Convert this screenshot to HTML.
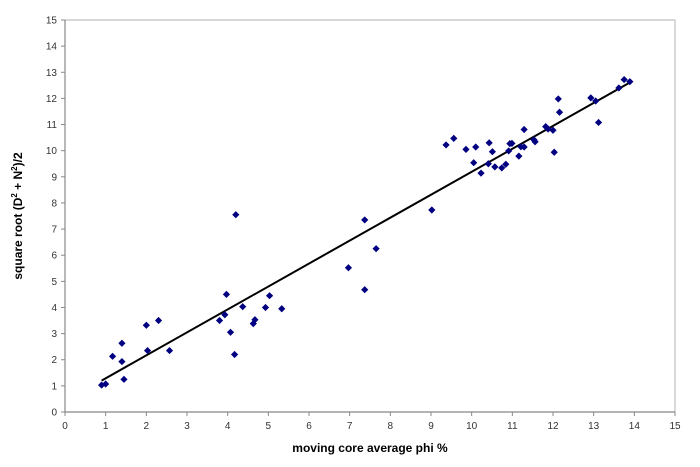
<!DOCTYPE html>
<html><head><meta charset="utf-8"><style>
body{margin:0;background:#fff;}
svg{display:block;font-family:"Liberation Sans",Arial,sans-serif;}
</style></head><body>
<svg id="chart" width="700" height="467" viewBox="0 0 700 467">
<rect x="0" y="0" width="700" height="467" fill="#fff"/>
<g id="axes"></g>
<g id="pts"></g>
</svg>
<script>
const xVals=[0.9,1.0,1.17,1.4,1.4,1.45,2.0,2.03,2.3,2.57,3.8,3.93,3.97,4.07,4.17,4.37,4.63,4.67,4.93,5.03,5.33,6.97,7.37,4.2,7.37,7.65,9.02,
9.37,9.56,9.86,10.1,10.05,10.23,10.43,10.51,10.41,10.57,10.74,10.84,10.91,10.94,10.99,11.16,11.21,11.29,11.29,11.53,11.56,11.82,11.88,12.0,12.03,12.13,12.16,12.93,13.05,13.12,13.62,13.75,13.89];
const yVals=[1.03,1.07,2.13,2.63,1.93,1.25,3.32,2.35,3.5,2.35,3.5,3.72,4.5,3.05,2.2,4.03,3.38,3.53,4.0,4.45,3.95,5.52,4.68,7.55,7.35,6.25,7.73,
10.22,10.47,10.05,10.14,9.54,9.14,10.3,9.96,9.5,9.38,9.34,9.48,9.99,10.27,10.28,9.79,10.15,10.14,10.81,10.42,10.34,10.92,10.83,10.78,9.94,11.98,11.47,12.02,11.9,11.08,12.4,12.72,12.64];
const xTicks=[0,1,2,3,4,5,6,7,8,9,10,11,12,13,14,15];
const yTicks=[0,1,2,3,4,5,6,7,8,9,10,11,12,13,14,15];
const X0=65,X1=675,Y0=412,Y1=20;
const sx=v=>X0+(X1-X0)*v/15, sy=v=>Y0-(Y0-Y1)*v/15;
const NS="http://www.w3.org/2000/svg";
function mk(tag,attrs,parent,text){const e=document.createElementNS(NS,tag);for(const k in attrs)e.setAttribute(k,attrs[k]);if(text!==undefined)e.textContent=text;parent.appendChild(e);return e;}
const ax=document.getElementById('axes'), pg=document.getElementById('pts');
let b=mk('path',{d:`M${X0} ${Y1}H${X1}V${Y0}`,fill:'none',stroke:'#c0c0c0','stroke-width':1.2},ax);


let xa=mk('line',{x1:X0,y1:Y0,x2:X1,y2:Y0,stroke:'#888','stroke-width':1.2},ax);


let ya=mk('line',{x1:X0,y1:Y0,x2:X0,y2:Y1,stroke:'#888','stroke-width':1.2},ax);


xTicks.forEach(t=>{mk('line',{x1:sx(t),y1:Y0,x2:sx(t),y2:Y0+4,stroke:'#888'},ax);
 const l=mk('text',{x:sx(t),y:Y0+17,'text-anchor':'middle','font-size':10,fill:'#333'},ax,String(t));
 
 });
yTicks.forEach(t=>{mk('line',{x1:X0-4,y1:sy(t),x2:X0,y2:sy(t),stroke:'#888'},ax);
 const l=mk('text',{x:X0-8,y:sy(t)+3.5,'text-anchor':'end','font-size':10,fill:'#333'},ax,String(t));
 
 });
let xt=mk('text',{x:370,y:452,'text-anchor':'middle','font-size':12,'font-weight':'bold',fill:'#000'},ax,'moving core average phi %');


let yt=mk('text',{x:0,y:0,'text-anchor':'middle','font-size':12,'font-weight':'bold',fill:'#000',transform:'translate(22,216) rotate(-90)'},ax);


yt.innerHTML='square root (D<tspan dy="-5" font-size="8">2</tspan><tspan dy="5"> + N</tspan><tspan dy="-5" font-size="8">2</tspan><tspan dy="5">)/2</tspan>';
// trend line (least squares)
const n=xVals.length;let mx=0,my=0;for(let i=0;i<n;i++){mx+=xVals[i];my+=yVals[i];}mx/=n;my/=n;
let sxy=0,sxx=0;for(let i=0;i<n;i++){sxy+=(xVals[i]-mx)*(yVals[i]-my);sxx+=(xVals[i]-mx)**2;}
const m=sxy/sxx,c=my-m*mx;const xmin=Math.min(...xVals),xmax=Math.max(...xVals);
let tl=mk('line',{x1:sx(xmin),y1:sy(m*xmin+c),x2:sx(xmax),y2:sy(m*xmax+c),stroke:'#000','stroke-width':2},pg);


for(let i=0;i<n;i++){const x=sx(xVals[i]),y=sy(yVals[i]);
 const p=mk('path',{d:`M${x} ${y-3.6}L${x+3.6} ${y}L${x} ${y+3.6}L${x-3.6} ${y}Z`,fill:'#000080'},pg);
 
 }
</script>
</body></html>
